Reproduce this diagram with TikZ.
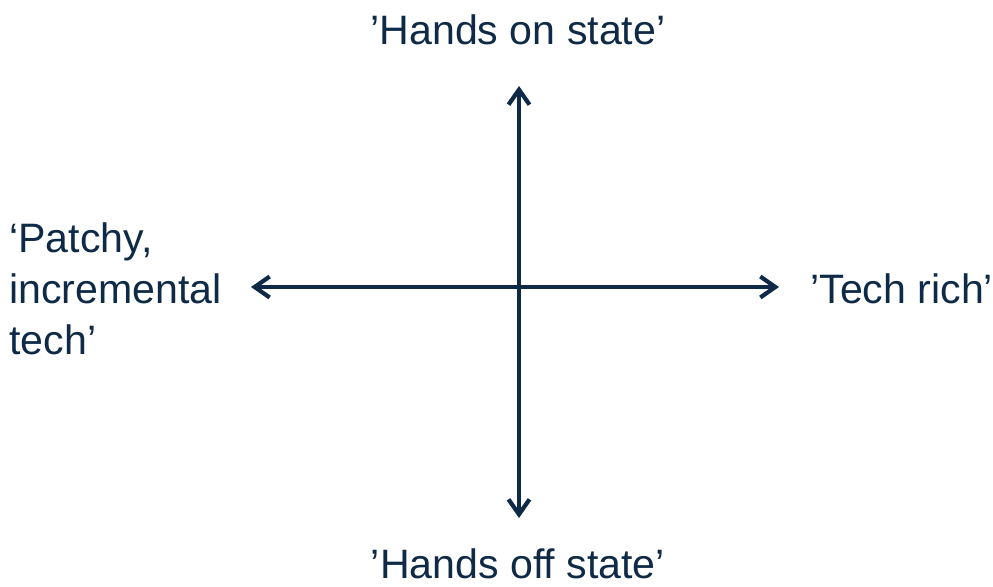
\documentclass[tikz,border=0pt]{standalone}
\usepackage{fontspec}
\setmainfont{Liberation Sans}
\usepackage{xcolor}
\usepackage{tikz}
\usetikzlibrary{arrows.meta,positioning}
\definecolor{axisnavy}{HTML}{0E2A47}
\tikzset{
  axisline/.style={{Straight Barb[length=3mm, width=4.2mm]}-{Straight Barb[length=3mm, width=4.2mm]}, line width=2.4pt, draw=axisnavy},
  polelabel/.style={text=axisnavy, font=\fontsize{23.4}{29}\selectfont, inner sep=0pt, align=left}
}
\begin{document}
\begin{tikzpicture}[x=0.02cm, y=-0.02cm]
  \useasboundingbox (0,0) rectangle (993,586);
  \node[polelabel] (handson) at (518,30) {'Hands on state'};
  \node[polelabel] (handsoff) at (518,564) {'Hands off state'};
  \node[polelabel, anchor=west] (patchy) at (9,289) {‘Patchy,\\incremental\\tech’};
  \node[polelabel, anchor=west] (techrich) at (810,289) {'Tech rich'};
  \coordinate (ntip) at (519,86);
  \coordinate (stip) at (519,518);
  \coordinate (wtip) at (251,287);
  \coordinate (etip) at (779,287);
  \draw[axisline] (ntip) -- (stip);
  \draw[axisline] (wtip) -- (etip);
\end{tikzpicture}
\end{document}
